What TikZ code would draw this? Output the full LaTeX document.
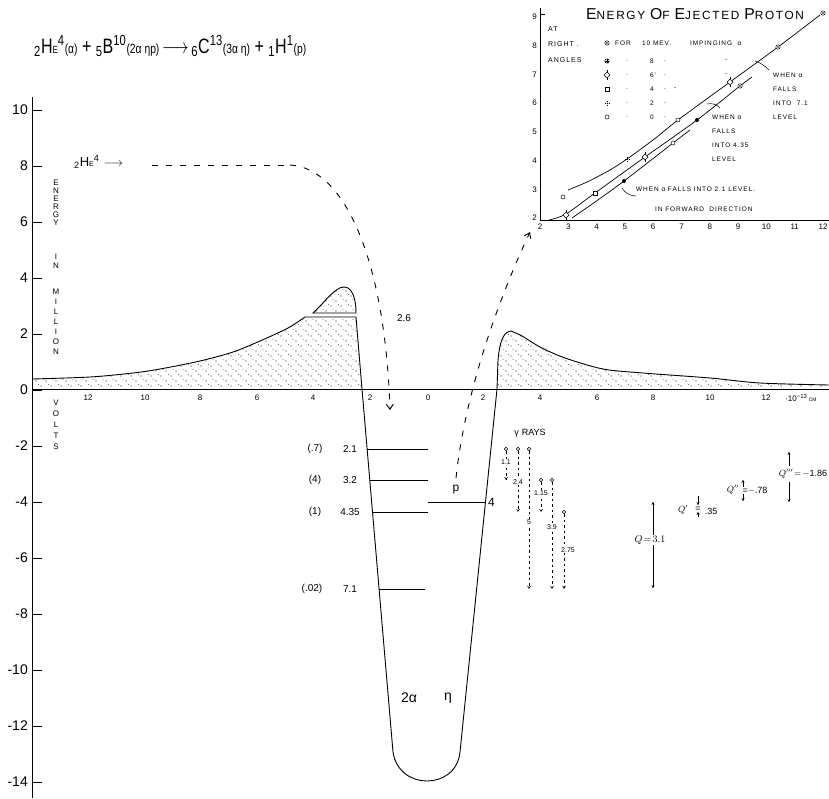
\documentclass[tikz,border=0pt]{standalone}
\usepackage{fontspec}
\setmainfont{Liberation Sans}
\newfontfamily\lsp[LetterSpace=14]{Liberation Sans}
\usetikzlibrary{arrows.meta,patterns,calc}
\pgfdeclarepatternformonly{stip}{\pgfqpoint{-1pt}{-1pt}}{\pgfqpoint{11pt}{11pt}}{\pgfqpoint{10pt}{10pt}}{%
  \pgfpathcircle{\pgfqpoint{1pt}{2pt}}{0.6pt}
  \pgfpathcircle{\pgfqpoint{6pt}{7pt}}{0.6pt}
  \pgfpathcircle{\pgfqpoint{3pt}{8.5pt}}{0.45pt}
  \pgfpathcircle{\pgfqpoint{8.5pt}{3.5pt}}{0.45pt}
  \pgfusepath{fill}}
\begin{document}
\begin{tikzpicture}[x=1pt,y=-1pt,
  ax/.style={line width=0.9pt},
  crv/.style={line width=0.9pt},
  lvl/.style={line width=0.8pt},
  dsh/.style={line width=0.9pt,dash pattern=on 6pt off 8pt},
  gam/.style={line width=0.6pt,dash pattern=on 2.5pt off 3pt,-{Straight Barb[length=2.5pt,width=3pt]}},
  qarr/.style={line width=0.6pt,-{To[length=3pt,width=3pt]}},
  ylab/.style={font=\fontsize{14}{14}\selectfont,anchor=east,inner sep=0pt},
  xlab/.style={font=\fontsize{8}{8}\selectfont,inner sep=0pt},
  vlet/.style={font=\fontsize{8}{8}\selectfont,inner sep=0pt},
  llab/.style={font=\fontsize{10}{10}\selectfont,inner sep=0pt},
  glab/.style={font=\fontsize{7}{7}\selectfont,inner sep=0.6pt,fill=white},
  qlab/.style={font=\fontsize{10}{10}\selectfont,inner sep=0.8pt,fill=white},
  itxt/.style={font=\lsp\fontsize{6.5}{7}\selectfont,inner sep=0pt,anchor=west},
  ntxt/.style={font=\lsp\fontsize{7}{8}\selectfont,inner sep=0pt,anchor=west},
  ilab/.style={font=\fontsize{8}{8}\selectfont,inner sep=0pt},
  pics/mo/.style={code={\draw[line width=0.5pt,fill=white] (0,0) circle (2);}},
  pics/modot/.style={code={\draw[line width=0.5pt,fill=white] (0,0) circle (2.2);\fill (0,0) circle (0.8);}},
  pics/mplus/.style={code={\draw[line width=0.5pt,fill=white] (0,0) circle (2.2);\draw[line width=0.5pt] (-2.2,0)--(2.2,0) (0,-2.2)--(0,2.2);}},
  pics/mdia/.style={code={\draw[line width=0.5pt,fill=white] (-3,0)--(0,-3)--(3,0)--(0,3)--cycle;\draw[line width=0.5pt] (0,-3)--(0,-5) (0,3)--(0,5);}},
  pics/msq/.style={code={\draw[line width=0.5pt,fill=white] (-2,-2) rectangle (2,2);}},
  pics/mcr/.style={code={\draw[line width=0.5pt,dash pattern=on 1pt off 1pt] (-2.5,0)--(2.5,0) (0,-2.5)--(0,2.5);}},
  pics/mfill/.style={code={\fill (0,0) circle (2);}},
]
\useasboundingbox (0,0) rectangle (829,798);

% ---------- equation ----------
\node[anchor=west,inner sep=0pt] (eq) at (34,46) {\scalebox{1}[1.3]{\resizebox{272pt}{!}{\fontsize{14}{14}\selectfont
 \textsubscript{2}H{\scriptsize E}\textsuperscript{4}{\small(α)} + \textsubscript{5}B\textsuperscript{10}{\small(2α ηp)}\,$\longrightarrow$\,\textsubscript{6}C\textsuperscript{13}{\small(3α η)} + \textsubscript{1}H\textsuperscript{1}{\small(p)}}}};

% ---------- main axes ----------
\coordinate (yt) at (32,97);
\coordinate (yb) at (32,798);
\coordinate (xl) at (32,389);
\coordinate (xr) at (829,389);
\draw[ax] (yt) -- (yb);
\draw[ax] (xl) -- (xr);
\foreach \v/\t in {10/10,8/8,6/6,4/4,2/2,0/0,-2/-2,-4/-4,-6/-6,-8/-8,-10/-10,-12/-12,-14/-14}{
  \pgfmathsetmacro\yy{390-28*\v}
  \draw[line width=0.8pt] (32,\yy) -- (42,\yy);
  \node[ylab] at (28,\yy) {\t};
}
% x labels
\foreach \xx/\t in {88/12,145/10,200/8,257/6,313/4,370/2,428/0,483/2,540/4,597/6,653/8,710/10,766/12}{
  \node[xlab] at (\xx,398) {\t};
}
\node[xlab,anchor=west] at (785,398) {·10\textsuperscript{−13}\,{\tiny CM}};

% vertical axis title
\foreach \l/\yy in {E/183,N/191,E/199,R/207,G/215,Y/223,I/257,N/266,M/292,I/302,L/312,L/322,I/332,O/342,N/352,V/403,O/414,L/425,T/436,S/447}{
  \node[vlet] at (56,\yy) {\l};
}

% ---------- barriers ----------
\fill[pattern=stip,pattern color=black!85] (32,389) -- plot[smooth] coordinates {(32,379) (90,377) (133,373) (160,369) (200,361) (233,352) (260,341) (288,328) (305,317)} -- (356,317) -- (362,389) -- cycle;
\draw[crv] plot[smooth] coordinates {(32,379) (90,377) (133,373) (160,369) (200,361) (233,352) (260,341) (288,328) (305,317)} -- (356,317) -- (362,389);
\fill[pattern=stip,pattern color=black!85] (313,313) .. controls (325,302) and (335,287) .. (344,287) .. controls (352,287) and (356,298) .. (356,313) -- cycle;
\draw[crv] (313,313) .. controls (325,302) and (335,287) .. (344,287) .. controls (352,287) and (356,298) .. (356,313) -- cycle;

\fill[pattern=stip,pattern color=black!85] (497,389) -- (498,360) .. controls (500,338) and (505,331) .. (511,331) -- plot[smooth] coordinates {(511,331) (522,336) (540,347) (565,358) (603,369) (643,373) (710,378) (760,383) (829,385)} -- (829,389) -- cycle;
\draw[crv] (497,389) -- (498,360) .. controls (500,338) and (505,331) .. (511,331) -- plot[smooth] coordinates {(511,331) (522,336) (540,347) (565,358) (603,369) (643,373) (710,378) (760,383) (829,385)};

% ---------- well ----------
\coordinate (wl0) at (362,389);
\coordinate (wl1) at (393,752);
\coordinate (wr0) at (497,389);
\coordinate (wr1) at (460,752);
\coordinate (wb) at (427,781);
\draw[crv] (wl0) -- (wl1) .. controls (396,772) and (412,781) .. (wb) .. controls (442,781) and (458,772) .. (wr1) -- (wr0);

% levels
\coordinate (l1a) at (367,449); \coordinate (l1b) at (428,449);
\coordinate (l2a) at (370,480); \coordinate (l2b) at (428,480);
\coordinate (l3a) at (372,512); \coordinate (l3b) at (428,512);
\coordinate (l4a) at (379,589); \coordinate (l4b) at (425,589);
\coordinate (pa) at (428,502); \coordinate (pb) at (485.5,502);
\draw[lvl] (l1a) -- (l1b);
\draw[lvl] (l2a) -- (l2b);
\draw[lvl] (l3a) -- (l3b);
\draw[lvl] (l4a) -- (l4b);
\draw[lvl] (pa) -- (pb);
\node[llab] at (315,449) {(.7)};
\node[llab] at (350,449) {2.1};
\node[llab] at (315,480) {(4)};
\node[llab] at (350,480) {3.2};
\node[llab] at (315,512) {(1)};
\node[llab] at (350,512) {4.35};
\node[llab] at (312,589) {(.02)};
\node[llab] at (350,589) {7.1};
\node[font=\fontsize{12}{12}\selectfont,inner sep=0pt] (plab) at (456,490) {p};
\node[font=\fontsize{12}{12}\selectfont,inner sep=0pt,anchor=west] at (488,502) {4};
\node[font=\fontsize{14}{14}\selectfont,inner sep=0pt] at (409,698) {2α};
\node[font=\fontsize{14}{14}\selectfont,inner sep=0pt] at (448,698) {η};

% ---------- alpha trajectory ----------
\node[anchor=west,inner sep=0pt,font=\fontsize{13}{13}\selectfont] (he) at (74,162) {\textsubscript{2}H{\scriptsize E}\textsuperscript{4}\,\,$\longrightarrow$};
\coordinate (a0) at (152,165);
\coordinate (a1) at (290,165);
\coordinate (a2) at (390,410);
\draw[dsh] (a0) -- (a1);
\draw[dsh,-{Straight Barb[length=5pt,width=7pt]}] (a1) .. controls (345,168) and (385,260) .. (a2);
\node[llab] at (404,318) {2.6};

% ---------- proton trajectory ----------
\coordinate (p0) at (456,478);
\coordinate (p1) at (530,232);
\draw[dsh,-{Straight Barb[length=5pt,width=7pt]}] (p0) .. controls (463,410) and (488,322) .. (p1);

% ---------- gamma rays ----------
\node[font=\fontsize{9}{9}\selectfont,inner sep=0pt] (grays) at (530,433) {γ\,\,RAYS};
\foreach \xx/\ya/\yb in {506/449/480,518/449/512,529/449/589,541/480/512,552/480/589,564/512/589}{
  \draw[gam] (\xx,\ya+2) -- (\xx,\yb);
  \draw[line width=0.5pt,fill=white] (\xx,\ya) circle (1.8);
}
\node[glab] at (506,462) {1.1};
\node[glab] at (518,482) {2.4};
\node[glab] at (529,522) {5};
\node[glab] at (541,493) {1.15};
\node[glab] at (552,527) {3.9};
\node[glab] at (568,550) {2.75};

% ---------- Q values ----------
\coordinate (q0) at (653,540);
\draw[qarr] (q0) -- (653,502);
\draw[qarr] (q0) -- (653,588);
\node[qlab] at (650,540) {$Q\!=\!3.1$};
\draw[qarr] (698,496) -- (698,505);
\draw[qarr] (698,517) -- (698,512);
\node[font=\fontsize{9}{9}\selectfont,inner sep=0pt] at (683,510) {$Q'$};
\node[font=\fontsize{9}{9}\selectfont,inner sep=0pt] at (698,509) {=};
\node[font=\fontsize{9}{9}\selectfont,inner sep=0pt] at (711,511) {.35};
\draw[qarr] (743,487) -- (743,480);
\draw[qarr] (743,494) -- (743,501);
\node[font=\fontsize{9}{9}\selectfont,inner sep=0pt] at (733,490) {$Q''$};
\node[font=\fontsize{9}{9}\selectfont,inner sep=0pt] at (755,491) {=$-$.78};
\draw[qarr] (789,466) -- (789,452);
\draw[qarr] (789,482) -- (789,502);
\node[font=\fontsize{9}{9}\selectfont,inner sep=0pt] at (803,474) {$Q'''\!=\!-$1.86};

% ---------- inset ----------
\coordinate (iy) at (540,8);
\coordinate (io) at (540,220);
\coordinate (ix) at (829,220);
\draw[line width=0.9pt] (iy) -- (io) -- (ix);
\foreach \v in {2,...,9}{
  \pgfmathsetmacro\yy{218-28.7*(\v-2)}
  \node[ilab,anchor=east] at (537,\yy) {\v};
}
\draw[line width=0.5pt] (540,14) -- (545,14);
\foreach \v in {2,...,12}{
  \pgfmathsetmacro\xx{540+28.3*(\v-2)}
  \node[ilab] at (\xx,227) {\v};
}
\node[inner sep=0pt] (ititle) at (695,14) {\resizebox{218pt}{!}{\lsp\fontsize{9}{9}\selectfont{\fontsize{12}{12}\selectfont E}NERGY {\fontsize{12}{12}\selectfont O}F {\fontsize{12}{12}\selectfont E}JECTED {\fontsize{12}{12}\selectfont P}ROTON}};
\node[ntxt] at (548,29) {AT};
\node[ntxt] at (548,44) {RIGHT .};
\node[ntxt] at (548,60) {ANGLES};

% legend
\pic at (607,43) {modot};
\node[itxt] at (615,43) {FOR};
\node[itxt] at (642,43) {10 MEV.};
\node[itxt] at (690,43) {IMPINGING\ \ α};
\pic at (607,61) {mplus};
\pic at (607,75) {mdia};
\pic at (607,89) {msq};
\pic at (607,103) {mcr};
\pic at (607,117) {mo};
\foreach \yy/\n in {61/8,75/6',89/4,103/2,117/0}{
  \node[itxt] at (626,\yy) {.};
  \node[itxt] at (650,\yy) {\n};
  \node[itxt] at (664,\yy) {.};
}
\node[itxt] at (725,61) {-};
\node[itxt] at (725,75) {-};
\node[itxt] at (674,89) {-};

% curves
\draw[line width=0.7pt] plot[smooth] coordinates {(568,190) (587,182) (610,170) (627,159) (653,140) (678,120) (730,82) (778,47) (820,15)};
\draw[line width=0.7pt] plot[smooth] coordinates {(549,220) (566,214) (595,193) (645,157) (697,120) (740,86) (752,77)};
\draw[line width=0.7pt] plot[smooth] coordinates {(572,218) (595,202) (624,181) (673,143) (690,130)};
\pic at (563,197) {mo};
\pic at (627,159) {mcr};
\pic at (678,120) {mo};
\pic at (730,82) {mdia};
\pic at (778,47) {modot};
\pic at (823,13) {modot};
\pic at (566,215) {mdia};
\pic at (595,193) {msq};
\pic at (645,157) {mdia};
\pic at (697,120) {mfill};
\pic at (624,181) {mfill};
\pic at (673,143) {mo};
\pic at (740,86) {modot};

\node[itxt] at (773,75) {WHEN α};
\node[itxt] at (773,89) {FALLS};
\node[itxt] at (773,103) {INTO\ \ 7.1};
\node[itxt] at (773,117) {LEVEL};
\draw[line width=0.5pt] (769,70) .. controls (764,65) and (759,62) .. (755,61);
\node[itxt] at (712,117) {WHEN α};
\node[itxt] at (712,131) {FALLS};
\node[itxt] at (712,145) {INTO 4.35};
\node[itxt] at (712,159) {LEVEL};
\draw[line width=0.5pt] (720,108) .. controls (716,104) and (712,103) .. (707,104);
\node[itxt] at (636,189) {WHEN α FALLS INTO 2.1 LEVEL.};
\draw[line width=0.5pt] (636,196) .. controls (630,196) and (625,193) .. (622,188);
\node[itxt] at (655,209) {IN FORWARD\ \ DIRECTION};
\end{tikzpicture}
\end{document}
